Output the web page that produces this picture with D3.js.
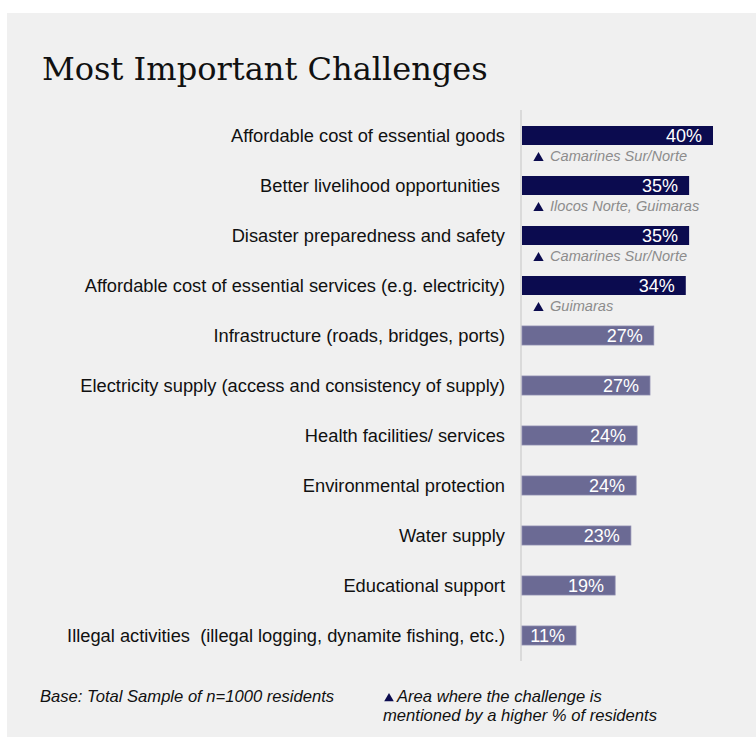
<!DOCTYPE html>
<html>

<head>
  <meta charset="utf-8">
  <title>Most Important Challenges</title>
  <script type="text/javascript" src="https://cdn.jsdelivr.net/npm/d3@7"></script>
  <style>
    body { margin: 0; background: #fff; }
    text { font-family: "Liberation Sans", Arial, sans-serif; }
  </style>
</head>

<body>
  <svg class="chart"></svg>
</body>
<script>
  //1. Prepare the Data
  var categories = [
    "Affordable cost of essential goods",
    "Better livelihood opportunities ",
    "Disaster preparedness and safety",
    "Affordable cost of essential services (e.g. electricity)",
    "Infrastructure (roads, bridges, ports)",
    "Electricity supply (access and consistency of supply)",
    "Health facilities/ services",
    "Environmental protection",
    "Water supply",
    "Educational support",
    "Illegal activities  (illegal logging, dynamite fishing, etc.)"
  ];
  var values = [40, 35, 35, 34.3, 27.6, 26.8, 24.1, 23.9, 22.8, 19.5, 11.3];
  var valueLabels = ["40%", "35%", "35%", "34%", "27%", "27%", "24%", "24%", "23%", "19%", "11%"];
  var highlighted = [true, true, true, true, false, false, false, false, false, false, false];
  var areas = ["Camarines Sur/Norte", "Ilocos Norte, Guimaras", "Camarines Sur/Norte", "Guimaras",
    "", "", "", "", "", "", ""];

  //2. UI Component Properties
  var width = 756, height = 737,
    axisX = 522,
    rowTop = 126, rowStep = 50, barHeight = 19,
    darkBlue = "#0b0b4f", lightBlue = "#6b6a94";

  var svg = d3.select(".chart")
    .attr("width", width)
    .attr("height", height);

  svg.append("rect")
    .attr("x", 7).attr("y", 13)
    .attr("width", width - 7).attr("height", height - 13)
    .attr("fill", "#f0f0f0");

  // title (fit width to the original)
  var title = svg.append("text")
    .attr("x", 42).attr("y", 80)
    .style("font-family", "Georgia, 'DejaVu Serif', serif")
    .style("font-size", "34px")
    .attr("fill", "#111")
    .text("Most Important Challenges");
  var tw = title.node().getComputedTextLength();
  title.style("font-size", (34 * 446 / tw) + "px");

  //3. Scaling
  var x = d3.scaleLinear()
    .domain([0, 40])
    .range([axisX, axisX + 191]);

  var y = d3.scaleBand()
    .domain(categories)
    .range([rowTop, rowTop + rowStep * categories.length]);

  // axis line
  svg.append("line")
    .attr("x1", axisX - 1).attr("x2", axisX - 1)
    .attr("y1", 110).attr("y2", 661)
    .attr("stroke", "#dadada").attr("stroke-width", 2);

  //4. Rows
  var g = svg.selectAll("g.row")
    .data(categories)
    .enter().append("g")
    .attr("class", "row")
    .attr("transform", function(d) { return "translate(0," + y(d) + ")"; });

  g.append("text")
    .attr("x", 505)
    .attr("y", barHeight / 2 + 6)
    .attr("text-anchor", "end")
    .style("font-size", "18.3px")
    .attr("fill", "#111")
    .style("white-space", "pre")
    .text(function(d) { return d; });

  g.append("rect")
    .attr("x", x(0))
    .attr("width", function(d, i) { return x(values[i]) - x(0); })
    .attr("height", barHeight)
    .attr("fill", function(d, i) { return highlighted[i] ? darkBlue : lightBlue; })
    .attr("stroke", function(d, i) { return highlighted[i] ? "none" : "#8a89ad"; })
    .attr("stroke-width", 0.8);

  g.append("text")
    .attr("x", function(d, i) { return x(values[i]) - 11; })
    .attr("y", barHeight / 2 + 6)
    .attr("text-anchor", "end")
    .style("font-size", "18px")
    .attr("fill", "#fff")
    .text(function(d, i) { return valueLabels[i]; });

  // area notes
  var notes = g.filter(function(d, i) { return areas[i] !== ""; });
  notes.append("path")
    .attr("d", d3.symbol().type(d3.symbolTriangle).size(46))
    .attr("transform", "translate(538.5," + (barHeight + 13) + ")")
    .attr("fill", darkBlue);
  notes.append("text")
    .attr("x", 550)
    .attr("y", barHeight + 16)
    .style("font-size", "14.6px")
    .style("font-style", "italic")
    .attr("fill", "#8c8c8c")
    .text(function(d) { return areas[categories.indexOf(d)]; });

  //5. Footer
  svg.append("text")
    .attr("x", 40).attr("y", 702)
    .style("font-size", "16.6px")
    .style("font-style", "italic")
    .attr("fill", "#111")
    .text("Base: Total Sample of n=1000 residents");

  svg.append("path")
    .attr("d", d3.symbol().type(d3.symbolTriangle).size(40))
    .attr("transform", "translate(389,698.5)")
    .attr("fill", darkBlue);

  svg.append("text")
    .attr("x", 397).attr("y", 702)
    .style("font-size", "16.6px")
    .style("font-style", "italic")
    .attr("fill", "#111")
    .text("Area where the challenge is");

  svg.append("text")
    .attr("x", 383).attr("y", 721)
    .style("font-size", "16.6px")
    .style("font-style", "italic")
    .attr("fill", "#111")
    .text("mentioned by a higher % of residents");
</script>

</html>
